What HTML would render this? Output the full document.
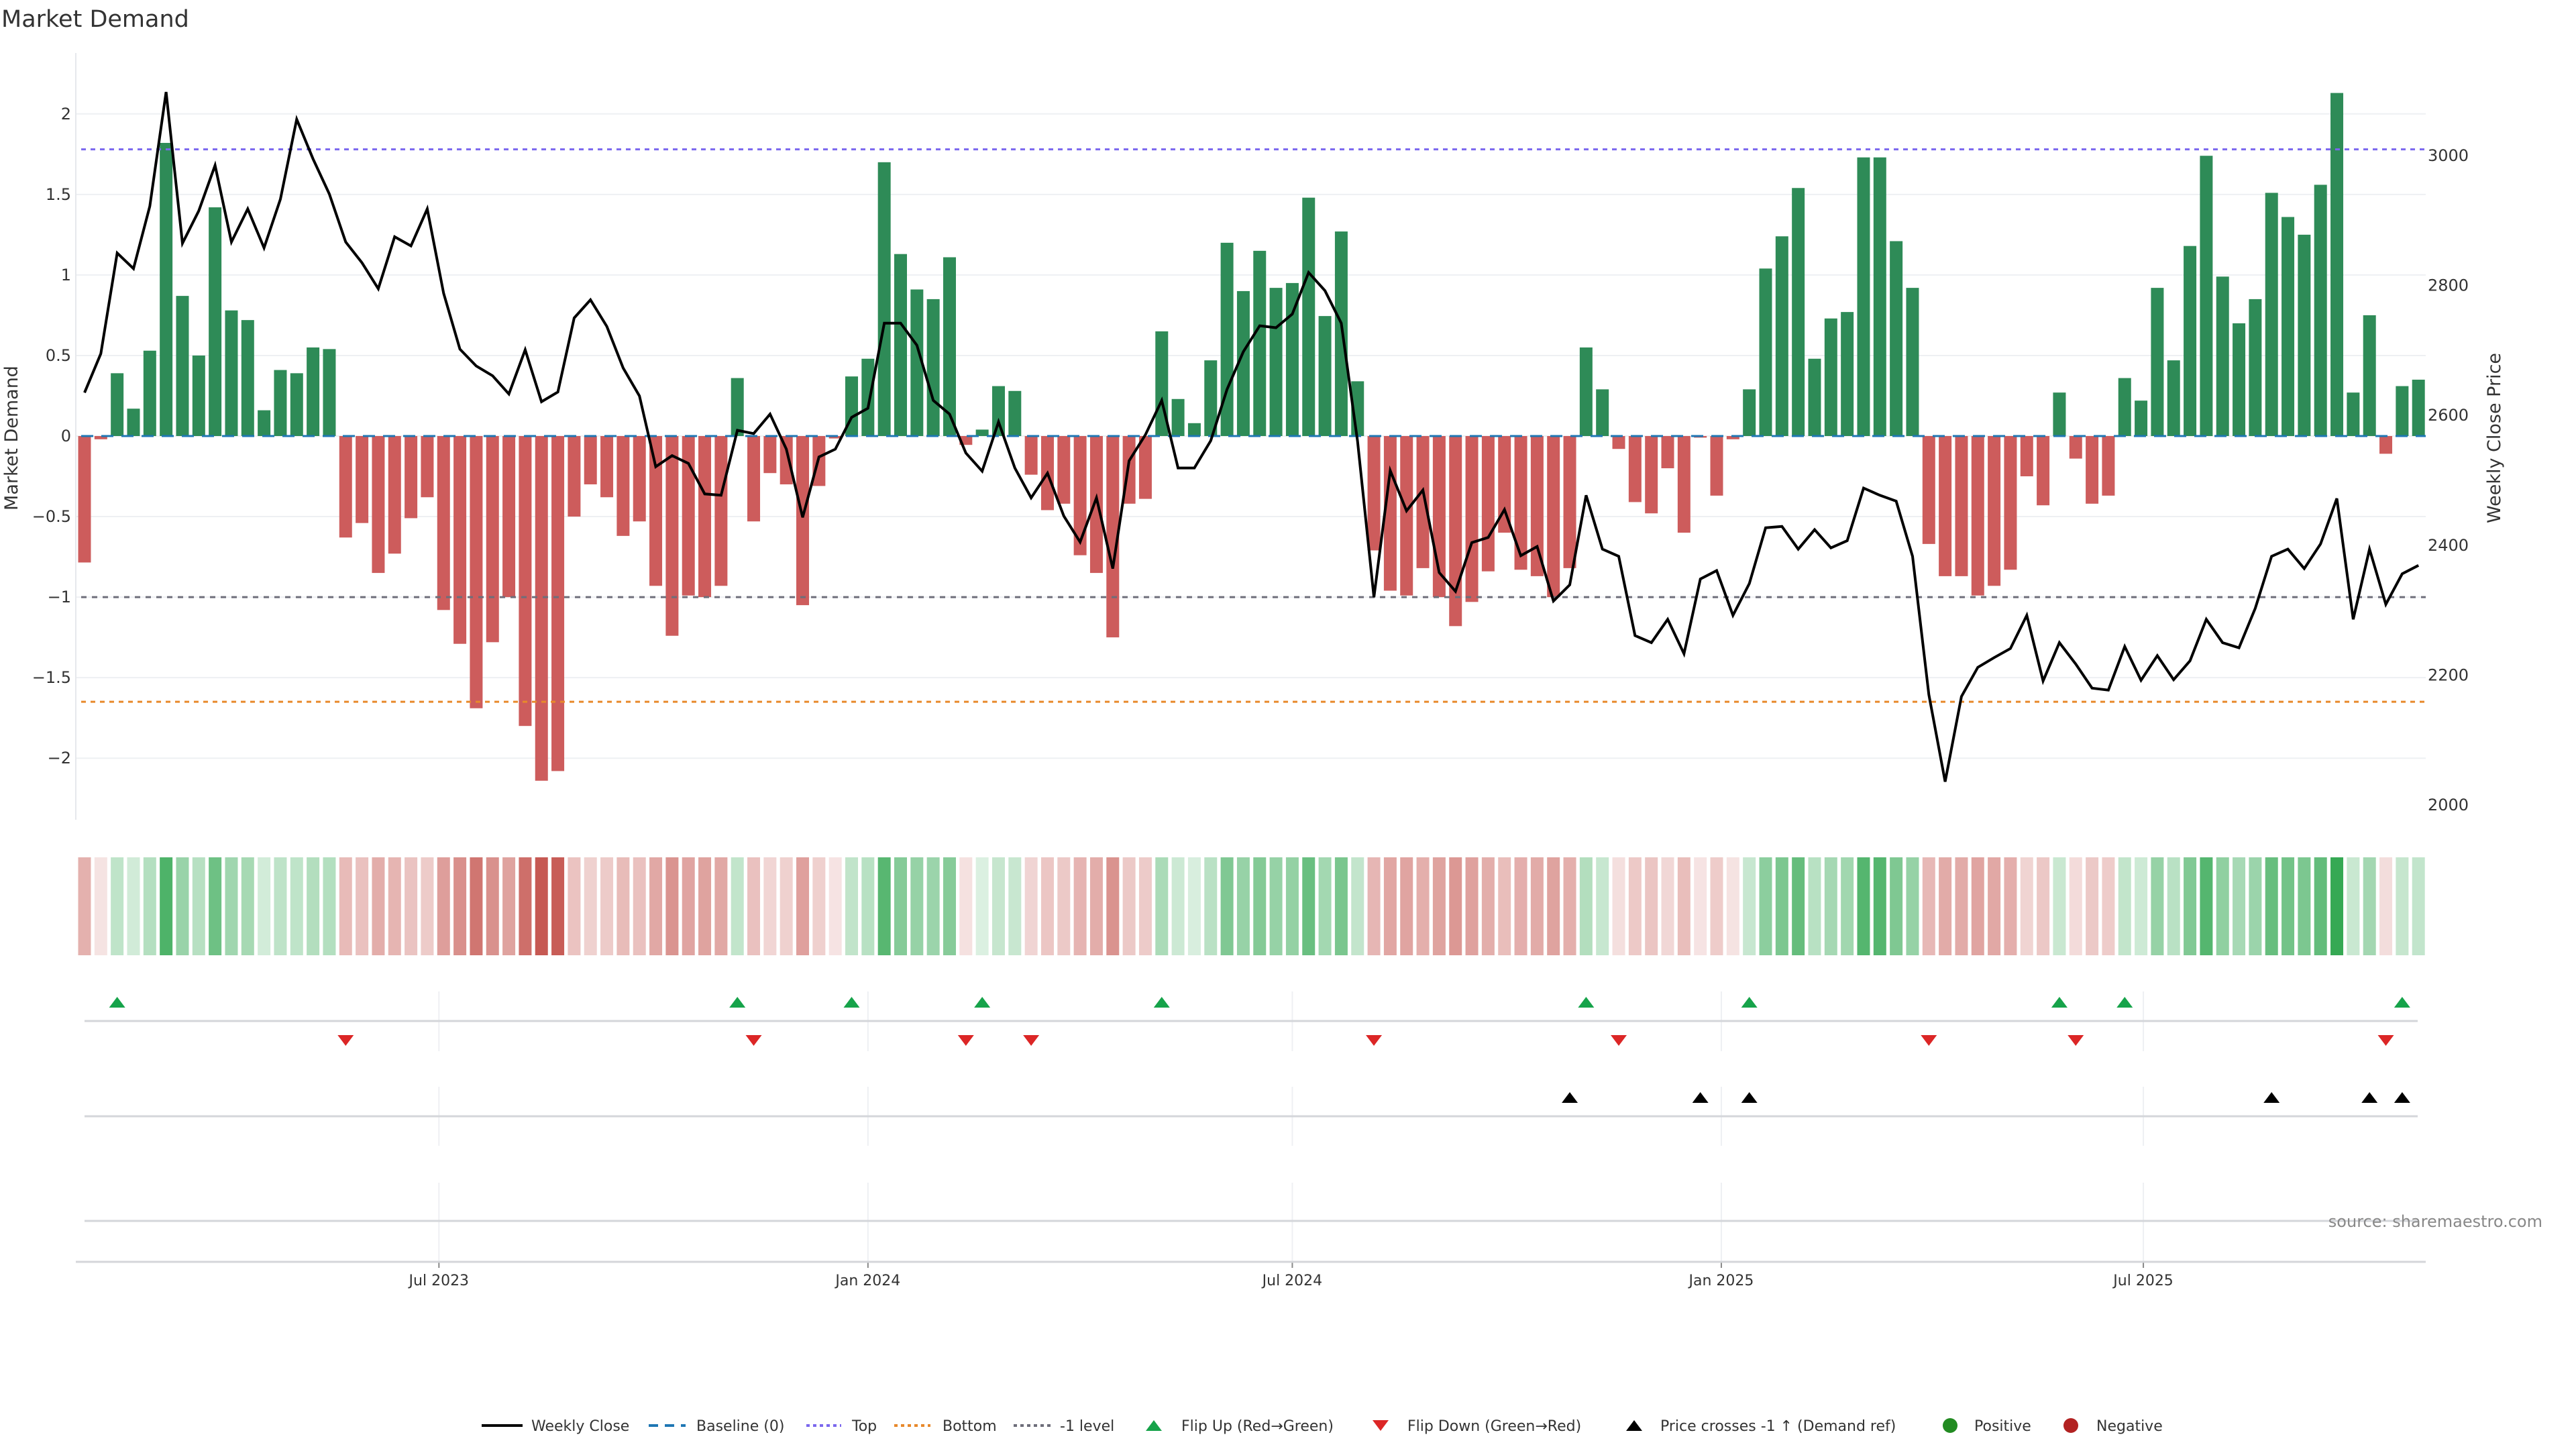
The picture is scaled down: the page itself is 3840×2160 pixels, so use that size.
<!DOCTYPE html>
<html><head><meta charset="utf-8"><title>Market Demand</title>
<style>
html,body{margin:0;padding:0;background:#fff;}
svg{display:block;font-family:"DejaVu Sans","Liberation Sans",sans-serif;}
</style></head>
<body>
<svg id="chart" xmlns="http://www.w3.org/2000/svg" width="3840" height="2160" viewBox="0 0 3840 2160">
<rect x="0" y="0" width="3840" height="2160" fill="#fff"/>
<text x="2" y="40" font-size="35" fill="#333">Market Demand</text>
<text transform="translate(26,653) rotate(-90)" text-anchor="middle" font-size="27" fill="#333">Market Demand</text>
<text transform="translate(3727,653) rotate(-90)" text-anchor="middle" font-size="27" fill="#333">Weekly Close Price</text>
<g id="grid"></g>
<g id="bars"></g>
<g id="refs"></g>
<g id="price"></g>
<g id="axes"></g>
<g id="heat"></g>
<g id="markers"></g>
<g id="xaxis"></g>
<text x="3790" y="1829" text-anchor="end" font-size="24" fill="#888">source: sharemaestro.com</text>
<g id="legend"></g>
</svg>
<script>
const demand = [-0.785,-0.02,0.39,0.17,0.53,1.82,0.87,0.50,1.42,0.78,0.72,0.16,0.41,0.39,0.55,0.54,
-0.63,-0.54,-0.85,-0.73,-0.51,-0.38,-1.08,-1.29,-1.69,-1.28,-1.00,-1.80,-2.14,-2.08,-0.50,-0.30,-0.38,-0.62,-0.53,-0.93,-1.24,-0.99,-1.00,-0.93,
0.36,-0.53,-0.23,-0.30,-1.05,-0.31,-0.015,0.37,0.48,1.70,1.13,0.91,0.85,1.11,-0.055,0.04,0.31,0.28,-0.24,-0.46,-0.42,-0.74,-0.85,-1.25,-0.42,-0.39,
0.65,0.23,0.08,0.47,1.20,0.90,1.15,0.92,0.95,1.48,0.745,1.27,0.34,-0.71,-0.96,-0.99,-0.82,-1.00,-1.18,-1.03,-0.84,-0.60,-0.83,-0.87,-1.00,-0.82,
0.55,0.29,-0.08,-0.41,-0.48,-0.20,-0.60,-0.01,-0.37,-0.02,0.29,1.04,1.24,1.54,0.48,0.73,0.77,1.73,1.73,1.21,0.92,-0.67,-0.87,-0.87,-0.99,-0.93,-0.83,
-0.25,-0.43,0.27,-0.14,-0.42,-0.37,0.36,0.22,0.92,0.47,1.18,1.74,0.99,0.70,0.85,1.51,1.36,1.25,1.56,2.13,0.27,0.75,-0.11,0.31,0.35];
const weeklyClose = [2635,2695,2850,2826,2922,3098,2865,2915,2985,2867,2918,2858,2933,3056,2995,2941,
2867,2835,2795,2875,2861,2918,2788,2702,2676,2661,2633,2701,2621,2636,2750,2778,2737,2673,2630,2521,2538,2526,2479,2477,
2577,2572,2602,2548,2443,2536,2548,2597,2611,2742,2742,2708,2623,2602,2542,2514,2590,2519,2473,2511,2445,2405,2473,2364,2530,2570,
2623,2519,2519,2561,2640,2698,2738,2735,2756,2820,2792,2742,2560,2320,2515,2453,2485,2358,2329,2404,2412,2455,2384,2398,2314,2339,
2477,2394,2383,2261,2250,2286,2233,2348,2361,2292,2341,2427,2429,2394,2424,2396,2407,2488,2477,2468,2383,2170,2036,2167,2212,
2227,2241,2292,2191,2250,2217,2180,2177,2244,2192,2230,2193,2222,2286,2250,2242,2303,2383,2394,2364,2402,2472,2286,2394,2309,2356,2369];
const flipUpIdx = [2,40,47,55,66,92,102,121,125,142];
const flipDownIdx = [16,41,54,58,79,94,113,122,141];
const priceCrossIdx = [91,99,102,134,140,142];
const leftTicks = [2,1.5,1,0.5,0,-0.5,-1,-1.5,-2];
const leftTickLabels = ["2","1.5","1","0.5","0","\u22120.5","\u22121","\u22121.5","\u22122"];
const rightTicks = [2000,2200,2400,2600,2800,3000];
const xTickDates = ["2023-07-01","2024-01-01","2024-07-01","2025-01-01","2025-07-01"];
const xTickLabels = ["Jul 2023","Jan 2024","Jul 2024","Jan 2025","Jul 2025"];
const topLevel = 1.78, bottomLevel = -1.65, minusOneLevel = -1;
const firstWeek = "2023-01-30";

const NS = "http://www.w3.org/2000/svg";
function mk(tag, attrs, parent){const e=document.createElementNS(NS,tag);for(const k in attrs)e.setAttribute(k,attrs[k]);parent.appendChild(e);return e;}
const X0=126, STEP=24.33, PXDAY=STEP/7, PL=113, PR=3616;
function xOf(i){return X0+i*STEP;}
function xDate(s){return X0+(Date.parse(s)-Date.parse(firstWeek))/86400000*PXDAY;}
function yL(v){return 650-v*240.1;}
function yR(p){return 232+(3000-p)*0.968;}

const grid=document.getElementById('grid');
leftTicks.forEach((t,k)=>{
  const l=mk('line',{x1:PL,x2:PR,y1:yL(t),y2:yL(t),stroke:'#eef0f3','stroke-width':2},grid);
  
  
  const tx=mk('text',{x:106,y:yL(t)+8,'text-anchor':'end','font-size':24,fill:'#333'},grid);
  tx.textContent=leftTickLabels[k];
  
  
});
rightTicks.forEach(t=>{
  const tx=mk('text',{x:3619,y:yR(t)+8,'font-size':24,fill:'#333'},grid);
  tx.textContent=String(t);
  
  
});
const axes=document.getElementById('axes');
const ax=mk('line',{x1:PL,x2:PL,y1:79,y2:1222,stroke:'#e6e8ec','stroke-width':2},axes);



const bars=document.getElementById('bars');
demand.forEach((v,i)=>{
  const y0=yL(0),y1=yL(v);
  const r=mk('rect',{x:xOf(i)-9.5,y:Math.min(y0,y1),width:19,height:Math.max(1.5,Math.abs(y1-y0)),fill:v>=0?'#2e8b57':'#cd5c5c'},bars);
  
  
});
const refs=document.getElementById('refs');
function ref(v,color,dash,name){
  const l=mk('line',{x1:PL+8,x2:PR,y1:yL(v),y2:yL(v),stroke:color,'stroke-width':3,'stroke-dasharray':dash},refs);
  
  
}
ref(0,'#1f77b4','18 12','baseline-zero');
ref(topLevel,'#7b68ee','7 7','top-level-line');
ref(bottomLevel,'#e8892b','7 7','bottom-level-line');
ref(minusOneLevel,'#6e6e7a','8 8','minus-one-level-line');

const pg=document.getElementById('price');
const pts=weeklyClose.map((p,i)=>xOf(i).toFixed(1)+','+yR(p).toFixed(1)).join(' ');
const pl=mk('polyline',{points:pts,fill:'none',stroke:'#000','stroke-width':4,'stroke-linejoin':'miter'},pg);



const heat=document.getElementById('heat');
demand.forEach((v,i)=>{
  const a=Math.min(1,0.16+0.84*Math.abs(v)/2.15);
  const c=v>=0?'rgba(52,168,83,'+a.toFixed(3)+')':'rgba(198,88,82,'+a.toFixed(3)+')';
  const r=mk('rect',{x:xOf(i)-9.5,y:1278,width:19,height:146,fill:c},heat);
  
  
});

const xa=document.getElementById('xaxis');
xTickDates.forEach((d,k)=>{
  const x=xDate(d);
  [[1478,1567],[1620,1708],[1763,1880]].forEach(s=>{
    const g=mk('line',{x1:x,x2:x,y1:s[0],y2:s[1],stroke:'#eef0f3','stroke-width':2},xa);
    
    
  });
  const t=mk('line',{x1:x,x2:x,y1:1881,y2:1890,stroke:'#888','stroke-width':2},xa);
  
  
  const tx=mk('text',{x:x,y:1916,'text-anchor':'middle','font-size':22,fill:'#333'},xa);
  tx.textContent=xTickLabels[k];
  
  
});
[1522,1664,1820].forEach(y=>{
  const l=mk('line',{x1:126,x2:3604,y1:y,y2:y,stroke:'#d4d6da','stroke-width':3},xa);
  
  
});
const xl=mk('line',{x1:113,x2:3616,y1:1881,y2:1881,stroke:'#d4d6da','stroke-width':3},xa);



const mg=document.getElementById('markers');
function triUp(x,y){return (x-12)+','+(y+8)+' '+(x+12)+','+(y+8)+' '+x+','+(y-8);}
function triDown(x,y){return (x-12)+','+(y-8)+' '+(x+12)+','+(y-8)+' '+x+','+(y+8);}
flipUpIdx.forEach(i=>{
  const p=mk('polygon',{points:triUp(xOf(i),1494),fill:'#16a34a'},mg);
  
  
});
flipDownIdx.forEach(i=>{
  const p=mk('polygon',{points:triDown(xOf(i),1551),fill:'#dc2626'},mg);
  
  
});
priceCrossIdx.forEach(i=>{
  const p=mk('polygon',{points:triUp(xOf(i),1636),fill:'#000'},mg);
  
  
});

const lg=document.getElementById('legend');
const LY=2125;
function ltext(x,s){const t=mk('text',{x:x,y:LY+8,'font-size':22,fill:'#333'},lg);t.textContent=s;}
function lline(x1,x2,col,dash,w,name){const l=mk('line',{x1:x1,x2:x2,y1:LY,y2:LY,stroke:col,'stroke-width':w,'stroke-dasharray':dash},lg);}
lline(718,779,'#000','',4,'legend-weekly-close');ltext(792,'Weekly Close');
lline(967,1022,'#1f77b4','14 10',4,'legend-baseline');ltext(1038,'Baseline (0)');
lline(1202,1254,'#7b68ee','5 5',4,'legend-top');ltext(1270,'Top');
lline(1333,1387,'#e8892b','5 5',4,'legend-bottom');ltext(1405,'Bottom');
lline(1511,1567,'#6e6e7a','5 5',4,'legend-minus-one');ltext(1580,'-1 level');
let p=mk('polygon',{points:triUp(1720,LY),fill:'#16a34a'},lg);
ltext(1761,'Flip Up (Red\u2192Green)');
p=mk('polygon',{points:triDown(2058,LY),fill:'#dc2626'},lg);
ltext(2098,'Flip Down (Green\u2192Red)');
p=mk('polygon',{points:triUp(2436,LY),fill:'#000'},lg);
ltext(2475,'Price crosses -1 \u2191 (Demand ref)');
let c=mk('circle',{cx:2907,cy:LY,r:11,fill:'#228b22'},lg);
ltext(2943,'Positive');
c=mk('circle',{cx:3087,cy:LY,r:11,fill:'#b22222'},lg);
ltext(3125,'Negative');
</script>
</body></html>
